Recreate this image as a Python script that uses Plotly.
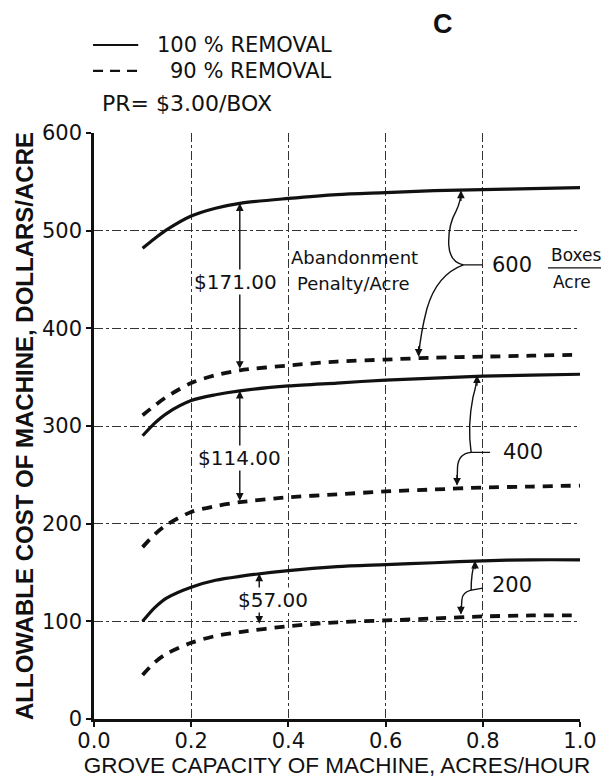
import plotly.graph_objects as go

# ---- data ----
x_capacity = [0.10, 0.125, 0.15, 0.20, 0.25, 0.30, 0.40, 0.50, 0.60, 0.70, 0.80, 0.90, 1.00]
solid_600 = [482, 492, 501, 515, 523, 528, 533, 537, 539, 541, 542, 543, 544]
dashed_600 = [311, 321, 330, 344, 352, 357, 362, 366, 368, 370, 371, 372, 373]
solid_400 = [290, 303, 313, 326, 332, 336, 341, 344, 347, 349, 351, 352, 353]
dashed_400 = [176, 189, 199, 212, 218, 222, 227, 230, 233, 235, 237, 238, 239]
solid_200 = [100, 114, 124, 135, 142, 146, 152, 156, 158, 160, 162, 163, 163]
dashed_200 = [45, 58, 67, 78, 85, 89, 95, 99, 101, 103, 105, 106, 106]

x_tickvals = [0.0, 0.2, 0.4, 0.6, 0.8, 1.0]
x_ticktext = ["0.0", "0.2", "0.4", "0.6", "0.8", "1.0"]
y_tickvals = [0, 100, 200, 300, 400, 500, 600]

penalty_labels = ["$171.00", "$114.00", "$57.00"]
penalty_x = [0.30, 0.30, 0.34]
penalty_top = [528, 336, 149]
penalty_bottom = [357, 222, 96]
penalty_text_pos = [(0.292, 447), (0.300, 267), (0.368, 122)]

TICKFONT = "DejaVu Sans"
BLACK = "#111111"

fig = go.Figure()

series = [
    (solid_600, "solid"), (dashed_600, "dash"),
    (solid_400, "solid"), (dashed_400, "dash"),
    (solid_200, "solid"), (dashed_200, "dash"),
]
for vals, style in series:
    fig.add_trace(go.Scatter(
        x=x_capacity, y=vals, mode="lines",
        line=dict(color=BLACK, width=3.2 if style == "solid" else 3.8,
                  dash="solid" if style == "solid" else "10px,8px",
                  shape="spline", smoothing=0.8),
        showlegend=False, hoverinfo="skip"))

shapes = []
annotations = []

# double arrows with penalty labels
for lab, xv, top, bot, (tx, ty) in zip(penalty_labels, penalty_x, penalty_top,
                                       penalty_bottom, penalty_text_pos):
    annotations.append(dict(x=xv, y=top, ax=xv, ay=bot, axref="x", ayref="y",
                            xref="x", yref="y", text="", showarrow=True,
                            arrowhead=2, arrowside="end+start", arrowsize=1.1,
                            arrowwidth=1.4, arrowcolor=BLACK))
    annotations.append(dict(x=tx, y=ty, xref="x", yref="y", text=lab,
                            showarrow=False, bgcolor="white", borderpad=0,
                            font=dict(family=TICKFONT, size=20, color=BLACK)))

annotations += [
    dict(x=0.537, y=473, xref="x", yref="y", text="Abandonment", showarrow=False,
         font=dict(family=TICKFONT, size=18, color=BLACK)),
    dict(x=0.533, y=446, xref="x", yref="y", text="Penalty/Acre", showarrow=False,
         font=dict(family=TICKFONT, size=18, color=BLACK)),
    dict(x=0.86, y=465, xref="x", yref="y", text="600", showarrow=False,
         font=dict(family=TICKFONT, size=21, color=BLACK)),
    dict(x=0.993, y=475, xref="x", yref="y", text="Boxes", showarrow=False,
         font=dict(family=TICKFONT, size=17, color=BLACK)),
    dict(x=0.983, y=447, xref="x", yref="y", text="Acre", showarrow=False,
         font=dict(family=TICKFONT, size=17, color=BLACK)),
    dict(x=0.883, y=273, xref="x", yref="y", text="400", showarrow=False,
         font=dict(family=TICKFONT, size=21, color=BLACK)),
    dict(x=0.86, y=137, xref="x", yref="y", text="200", showarrow=False,
         font=dict(family=TICKFONT, size=21, color=BLACK)),
]

# fraction bar for Boxes/Acre
shapes.append(dict(type="line", xref="paper", yref="paper",
                   x0=0.934, x1=1.05, y0=462 / 600, y1=462 / 600,
                   line=dict(color=BLACK, width=1.2)))

# curly leader lines
leader_paths = [
    "M 0.800,465 L 0.760,465 Q 0.732,468 0.730,485 Q 0.728,505 0.745,520 Q 0.755,530 0.755,540",
    "M 0.760,465 Q 0.705,455 0.685,420 Q 0.672,395 0.668,372",
    "M 0.815,273 L 0.776,273 Q 0.768,300 0.780,330 Q 0.787,342 0.788,351",
    "M 0.776,273 Q 0.750,272 0.748,258 L 0.747,240",
    "M 0.800,134 L 0.776,132 Q 0.776,150 0.784,161",
    "M 0.776,132 Q 0.758,130 0.757,122 L 0.755,108",
]
for p in leader_paths:
    shapes.append(dict(type="path", path=p, xref="x", yref="y",
                       line=dict(color=BLACK, width=1.4)))

# arrowheads at leader tips
tips = [(0.755, 541, 12), (0.668, 371, -12), (0.788, 352, 12),
        (0.747, 239, -12), (0.784, 162, 10), (0.755, 107, -10)]
for tx, ty, off in tips:
    annotations.append(dict(x=tx, y=ty, xref="x", yref="y", ax=0, ay=off,
                            text="", showarrow=True, arrowhead=2, arrowsize=1.1,
                            arrowwidth=1.4, arrowcolor=BLACK))

# legend drawn manually
shapes.append(dict(type="line", xref="paper", yref="paper", x0=-0.002, x1=0.091,
                   y0=1.150, y1=1.150, line=dict(color=BLACK, width=2)))
shapes.append(dict(type="line", xref="paper", yref="paper", x0=-0.002, x1=0.091,
                   y0=1.106, y1=1.106, line=dict(color=BLACK, width=2.2, dash="10px,7px")))
annotations += [
    dict(x=0.494, y=1.150, xref="paper", yref="paper", xanchor="right", yanchor="middle",
         text="100 % REMOVAL", showarrow=False,
         font=dict(family=TICKFONT, size=21, color=BLACK)),
    dict(x=0.494, y=1.106, xref="paper", yref="paper", xanchor="right", yanchor="middle",
         text="90 % REMOVAL", showarrow=False,
         font=dict(family=TICKFONT, size=21, color=BLACK)),
    dict(x=0.012, y=1.051, xref="paper", yref="paper", xanchor="left", yanchor="middle",
         text="PR= $3.00/BOX", showarrow=False,
         font=dict(family=TICKFONT, size=22, color=BLACK)),
    dict(x=0.718, y=1.186, xref="paper", yref="paper", xanchor="center", yanchor="middle",
         text="<b>C</b>", showarrow=False,
         font=dict(family="Liberation Sans", size=27, color=BLACK)),
]

# the page body adds an 8px margin, so the figure is sized to fit the window
fig.update_layout(
    width=601, height=775,
    margin=dict(l=86, r=29, t=125, b=64, autoexpand=False),
    paper_bgcolor="white", plot_bgcolor="white",
    shapes=shapes, annotations=annotations,
    showlegend=False,
)
fig.update_xaxes(
    range=[0, 1], tickvals=x_tickvals, ticktext=x_ticktext,
    showline=True, linecolor=BLACK, linewidth=2.5,
    ticks="outside", ticklen=5, tickwidth=1.5, tickcolor=BLACK,
    showgrid=True, gridcolor="#333333", gridwidth=1, griddash="dashdot",
    zeroline=False, automargin=False, ticklabelstandoff=-4,
    tickfont=dict(family=TICKFONT, size=21, color=BLACK),
    title=dict(text="GROVE CAPACITY OF MACHINE, ACRES/HOUR", standoff=2,
               font=dict(family="Liberation Sans", size=22.5, color=BLACK)),
)
fig.update_yaxes(
    range=[0, 600], tickvals=y_tickvals,
    showline=True, linecolor=BLACK, linewidth=2.5,
    ticks="outside", ticklen=5, tickwidth=1.5, tickcolor=BLACK,
    showgrid=True, gridcolor="#333333", gridwidth=1, griddash="dashdot",
    zeroline=False, automargin=False,
    tickfont=dict(family=TICKFONT, size=21, color=BLACK),
    title=dict(text="<b>ALLOWABLE COST OF MACHINE, DOLLARS/ACRE</b>", standoff=2,
               font=dict(family="Liberation Sans", size=24, color=BLACK)),
)

fig.write_html("out.html")
